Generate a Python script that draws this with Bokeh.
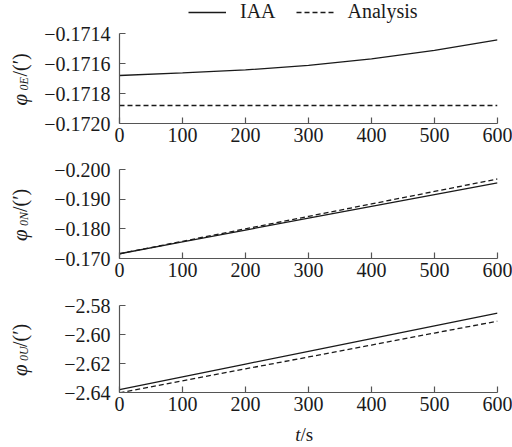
import math
from bokeh.plotting import figure
from bokeh.layouts import column, row
from bokeh.models import (Range1d, FixedTicker, CustomJSTickFormatter, Legend,
                          LegendItem)
from bokeh.core.properties import value
from bokeh.embed import file_html
from bokeh.resources import INLINE

# ---------------- data ----------------
t = [0, 100, 200, 300, 400, 500, 600]

iaa_E = [-0.17168, -0.171663, -0.171643, -0.171613, -0.171569, -0.171513, -0.171442]
ana_E = [-0.17188, -0.17188, -0.17188, -0.17188, -0.17188, -0.17188, -0.17188]

iaa_N = [-0.1716, -0.1756, -0.1796, -0.1836, -0.1876, -0.1915, -0.1955]
ana_N = [-0.1716, -0.1758, -0.1800, -0.1842, -0.1884, -0.1926, -0.1968]

iaa_U = [-2.6380, -2.6292, -2.6204, -2.6116, -2.6028, -2.5940, -2.5853]
ana_U = [-2.6402, -2.6320, -2.6237, -2.6155, -2.6073, -2.5990, -2.5908]

x_ticks = [0, 100, 200, 300, 400, 500, 600]
yticks_E = [-0.1720, -0.1718, -0.1716, -0.1714]
yticks_N = [-0.170, -0.180, -0.190, -0.200]
yticks_U = [-2.64, -2.62, -2.60, -2.58]

series_names = ["IAA", "Analysis"]
ylab_sub = ["0E", "0N", "0U"]
xlab = ["t", "/s"]

# ---------------- style / layout ----------------
FONT = "Liberation Serif"
INK = "#1a1a1a"
AX = "#555555"
W = 512
LABW = 40            # width of the strip that holds the rotated y labels
DASH = "5 3"

# (top border, frame height, bottom border) for each panel
panel_geo = [(10, 90, 29), (17, 89, 30), (17, 87, 26)]
LEG_H = 23
XLAB_H = 447 - LEG_H - sum(sum(g) for g in panel_geo)


def fmt(dec):
    return CustomJSTickFormatter(code=(
        "return (tick < 0 ? '\\u2212' : '') + Math.abs(tick).toFixed(%d);" % dec))


def bare(width, height, xr, yr):
    p = figure(width=width, height=height, x_range=xr, y_range=yr,
               output_backend="svg", toolbar_location=None,
               x_axis_location=None, y_axis_location=None,
               min_border=0)
    p.outline_line_color = None
    p.grid.visible = False
    return p


def make_fig(y_range, yticks, dec, geo):
    top, fh, bot = geo
    p = figure(width=W - LABW, height=top + fh + bot, x_range=Range1d(0, 600),
               y_range=y_range, output_backend="svg", toolbar_location=None,
               min_border_left=119 - LABW, min_border_right=15,
               min_border_top=top, min_border_bottom=bot)
    p.outline_line_color = None
    p.xgrid.visible = False
    p.ygrid.visible = False
    p.xaxis.ticker = FixedTicker(ticks=x_ticks)
    p.yaxis.ticker = FixedTicker(ticks=yticks)
    p.yaxis.formatter = fmt(dec)
    for ax in (p.xaxis, p.yaxis):
        ax.axis_line_color = AX
        ax.axis_line_width = 1.2
        ax.major_tick_line_color = AX
        ax.major_tick_line_width = 1.2
        ax.major_tick_in = 6
        ax.major_tick_out = 0
        ax.minor_tick_line_color = None
        ax.major_label_text_font = FONT
        ax.major_label_text_font_size = "20px"
        ax.major_label_text_color = INK
    p.xaxis.major_label_standoff = 4
    p.yaxis.major_label_standoff = 9
    return p


p1 = make_fig(Range1d(-0.1720, -0.1714), yticks_E, 4, panel_geo[0])
p2 = make_fig(Range1d(-0.170, -0.200), yticks_N, 3, panel_geo[1])
p3 = make_fig(Range1d(-2.64, -2.58), yticks_U, 2, panel_geo[2])

for p, a, b in ((p1, iaa_E, ana_E), (p2, iaa_N, ana_N), (p3, iaa_U, ana_U)):
    p.line(t, a, line_color=INK, line_width=1.3)
    p.line(t, b, line_color=INK, line_width=1.3, line_dash=DASH)

# ---------------- legend strip ----------------
# the series are drawn here too, but they fall outside this strip's range,
# so only their legend samples show
pl = bare(W, LEG_H, Range1d(0, W), Range1d(0, LEG_H))
g1 = pl.line(t, iaa_E, line_color=INK, line_width=1.3)
g2 = pl.line(t, ana_E, line_color=INK, line_width=1.3, line_dash=DASH)
leg = Legend(items=[LegendItem(label=series_names[0], renderers=[g1]),
                    LegendItem(label=series_names[1], renderers=[g2])],
             orientation="horizontal", location=(188, 0),
             label_text_font=FONT, label_text_font_size="20px",
             label_text_color=INK, glyph_width=38, label_standoff=14,
             spacing=20, padding=0, margin=0,
             background_fill_alpha=0, border_line_alpha=0)
pl.add_layout(leg)

# ---------------- rotated y labels strip (page pixel coordinates) ----------
mid_top = LEG_H
mid_bot = LEG_H + sum(sum(g) for g in panel_geo)
py = bare(LABW, mid_bot - mid_top, Range1d(0, LABW), Range1d(mid_bot, mid_top))
centers = []
y = LEG_H
for top, fh, bot in panel_geo:
    centers.append(y + top + fh / 2.0)
    y += top + fh + bot
start = [c + 27 for c in centers]
ang = math.pi / 2
py.text(x=[19] * 3, y=start, text=["\u03c6"] * 3, angle=ang,
        text_font=value(FONT), text_font_size=value("21px"),
        text_font_style="italic", text_color=INK,
        text_align="left", text_baseline="alphabetic")
py.text(x=[23] * 3, y=[s - 15 for s in start], text=ylab_sub, angle=ang,
        text_font=value(FONT), text_font_size=value("12px"),
        text_font_style="italic", text_color=INK,
        text_align="left", text_baseline="alphabetic")
py.text(x=[19] * 3, y=[s - 29 for s in start], text=["/(\u2032)"] * 3, angle=ang,
        text_font=value(FONT), text_font_size=value("20px"), text_color=INK,
        text_align="left", text_baseline="alphabetic")

# ---------------- x label strip (page pixel coordinates) ----------------
px = bare(W, XLAB_H, Range1d(0, W), Range1d(447, 447 - XLAB_H))
px.text(x=[300], y=[434], text=[xlab[0]], text_font=value(FONT),
        text_font_size=value("19px"), text_font_style="italic", text_color=INK,
        text_align="right", text_baseline="alphabetic")
px.text(x=[300], y=[434], text=[xlab[1]], text_font=value(FONT),
        text_font_size=value("19px"), text_color=INK,
        text_align="left", text_baseline="alphabetic")

layout = column(pl, row(py, column(p1, p2, p3, spacing=0), spacing=0), px, spacing=0)
open("out.html", "w").write(file_html(layout, INLINE))
